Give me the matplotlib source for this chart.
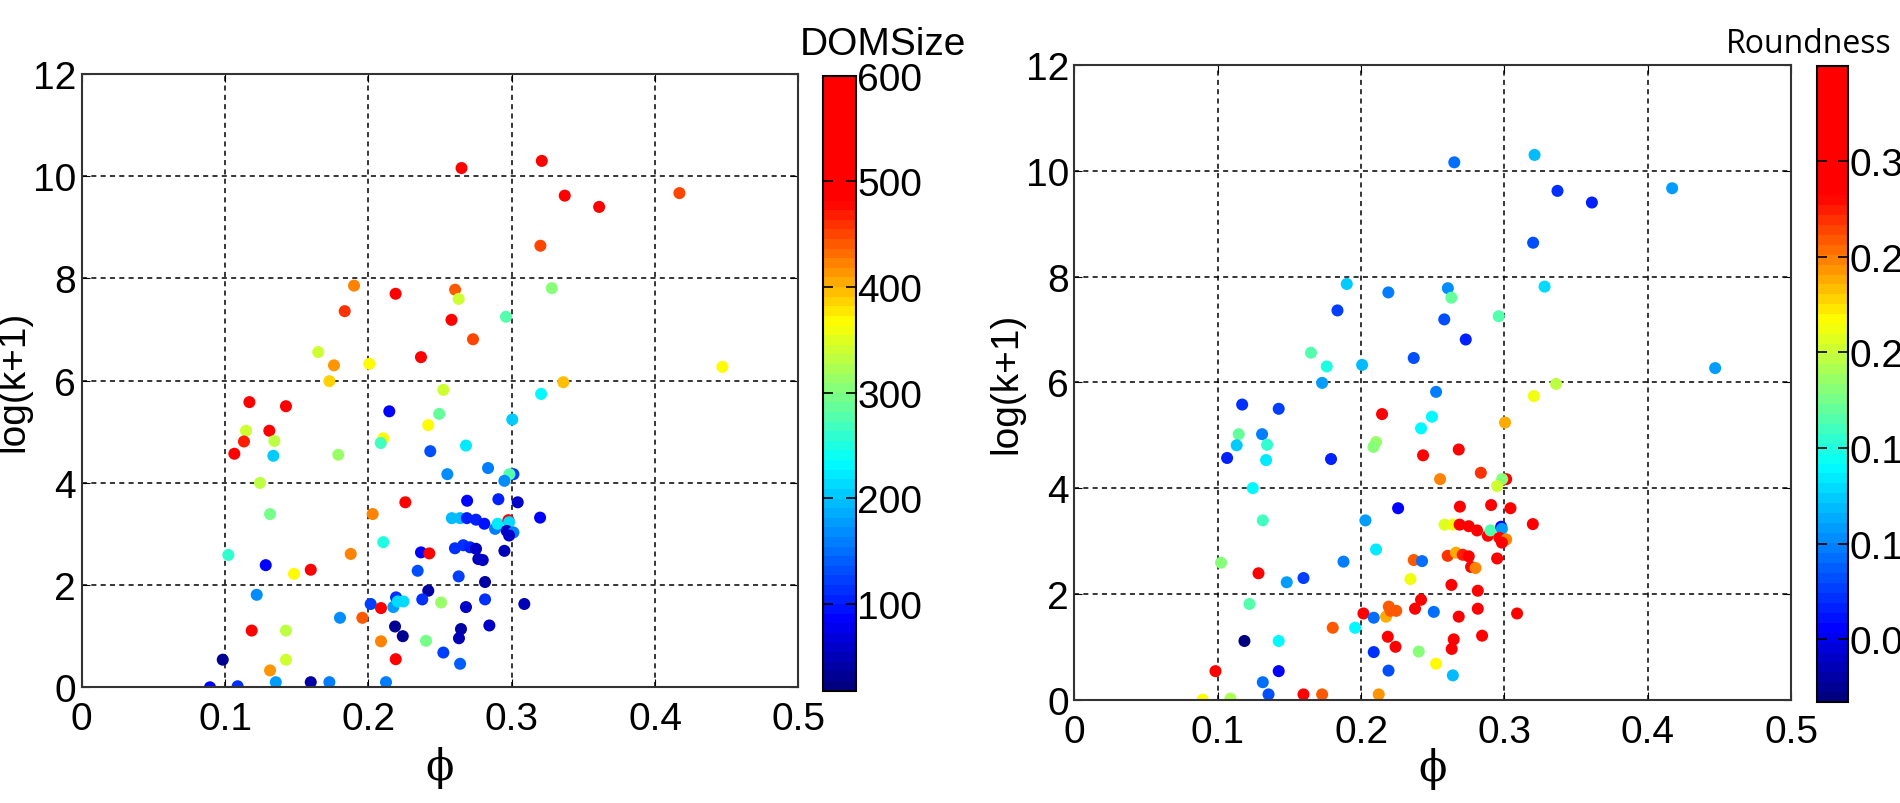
import matplotlib
matplotlib.use("Agg")
import matplotlib.pyplot as plt
from matplotlib.colors import LinearSegmentedColormap

plt.rcParams['font.family'] = ['Liberation Sans', 'DejaVu Sans']

# porosity (x) and log(k+1) (y), shared by both panels
phi = [0.265, 0.321, 0.337, 0.361, 0.417, 0.320, 0.328, 0.296, 0.447, 0.336, 0.3205,
       0.190, 0.219, 0.2605, 0.263, 0.1835, 0.258, 0.273, 0.165, 0.176, 0.2007, 0.2367, 0.1728, 0.2523,
       0.117, 0.1425, 0.2146, 0.2494, 0.2418, 0.3004, 0.2681, 0.2432, 0.2551, 0.2835, 0.3012, 0.2984, 0.2949,
       0.1065, 0.2258, 0.2689, 0.2907, 0.3042, 0.3198, 0.2582, 0.264, 0.2687, 0.2751, 0.2809, 0.2884, 0.2902,
       0.2977, 0.2982, 0.2965, 0.3012, 0.2982, 0.2367, 0.2425, 0.2604, 0.2662, 0.2709, 0.2751, 0.2767, 0.2798, 0.2949,
       0.2344, 0.263, 0.2814, 0.2418, 0.2376, 0.2507, 0.2814, 0.2681, 0.3088, 0.2844, 0.2646, 0.2632, 0.224, 0.2402, 0.2523, 0.264,
       0.2186, 0.2088, 0.2191, 0.2123, 0.2016, 0.2088, 0.2193, 0.2174, 0.2205, 0.2245, 0.1958, 0.1802,
       0.1146, 0.1309, 0.1132, 0.1344, 0.1337, 0.179, 0.2104, 0.2086, 0.1244, 0.1314, 0.2030, 0.2104, 0.1023, 0.1877,
       0.1284, 0.1481, 0.1598, 0.1221, 0.1186, 0.1425, 0.0984, 0.1425, 0.1314, 0.0895, 0.1088, 0.1354, 0.1598, 0.1728]

logk = [10.16, 10.30, 9.62, 9.40, 9.67, 8.64, 7.81, 7.25, 6.27, 5.97, 5.74,
        7.86, 7.70, 7.78, 7.60, 7.36, 7.19, 6.81, 6.56, 6.30, 6.33, 6.46, 5.99, 5.82,
        5.58, 5.50, 5.40, 5.35, 5.13, 5.24, 4.73, 4.62, 4.17, 4.29, 4.17, 4.17, 4.04,
        4.57, 3.62, 3.65, 3.68, 3.62, 3.32, 3.31, 3.31, 3.31, 3.28, 3.20, 3.10, 3.20,
        3.27, 3.23, 3.06, 3.03, 2.97, 2.64, 2.62, 2.72, 2.78, 2.74, 2.71, 2.51, 2.49, 2.67,
        2.28, 2.17, 2.06, 1.89, 1.72, 1.66, 1.72, 1.57, 1.63, 1.21, 1.14, 0.96, 1.00, 0.91, 0.68, 0.46,
        1.19, 0.90, 0.55, 0.10, 1.63, 1.55, 1.76, 1.57, 1.68, 1.68, 1.36, 1.36,
        5.02, 5.02, 4.81, 4.82, 4.53, 4.55, 4.87, 4.78, 4.00, 3.39, 3.39, 2.84, 2.59, 2.61,
        2.39, 2.22, 2.30, 1.81, 1.11, 1.11, 0.54, 0.54, 0.33, 0.0, 0.02, 0.10, 0.10, 0.10]

dom_size = [560, 570, 560, 555, 448, 448, 300, 275, 365, 396, 228,
            420, 565, 443, 341, 460, 560, 450, 341, 414, 365, 570, 390, 341,
            565, 560, 90, 285, 365, 205, 222, 130, 165, 160, 125, 278, 165,
            565, 570, 90, 100, 55, 88, 195, 195, 100, 100, 95, 160, 222,
            560, 215, 60, 160, 55, 90, 570, 110, 110, 100, 60, 50, 55, 50,
            130, 125, 45, 45, 110, 310, 110, 55, 50, 55, 45, 50, 30, 295, 125, 145,
            30, 425, 560, 155, 125, 565, 110, 175, 215, 215, 440, 165,
            341, 570, 465, 335, 205, 310, 365, 268, 330, 295, 425, 250, 255, 420,
            90, 365, 565, 165, 565, 335, 30, 341, 414, 90, 110, 175, 45, 155]

roundness = [0.09, 0.12, 0.07, 0.068, 0.107, 0.083, 0.13, 0.165, 0.11, 0.195, 0.21,
             0.125, 0.097, 0.105, 0.17, 0.077, 0.083, 0.068, 0.165, 0.15, 0.12, 0.08, 0.107, 0.10,
             0.072, 0.077, 0.32, 0.14, 0.138, 0.24, 0.32, 0.32, 0.25, 0.267, 0.32, 0.18, 0.20,
             0.068, 0.057, 0.33, 0.33, 0.32, 0.31, 0.207, 0.21, 0.33, 0.32, 0.33, 0.33, 0.163,
             0.057, 0.107, 0.33, 0.25, 0.32, 0.26, 0.09, 0.27, 0.24, 0.275, 0.32, 0.32, 0.25, 0.32,
             0.21, 0.32, 0.32, 0.32, 0.32, 0.095, 0.32, 0.32, 0.32, 0.32, 0.32, 0.32, 0.32, 0.18, 0.215, 0.117,
             0.32, 0.072, 0.08, 0.243, 0.32, 0.095, 0.26, 0.24, 0.257, 0.257, 0.138, 0.26,
             0.17, 0.097, 0.125, 0.155, 0.135, 0.068, 0.187, 0.183, 0.138, 0.158, 0.107, 0.135, 0.183, 0.10,
             0.32, 0.107, 0.077, 0.165, 0.02, 0.138, 0.32, 0.055, 0.09, 0.215, 0.19, 0.08, 0.32, 0.26]

x_ticks = [0, 0.1, 0.2, 0.3, 0.4, 0.5]
x_labels = ['0', '0.1', '0.2', '0.3', '0.4', '0.5']
y_ticks = [0, 2, 4, 6, 8, 10, 12]
dom_ticks = [100, 200, 300, 400, 500, 600]
rnd_ticks = [0.05, 0.1, 0.15, 0.2, 0.25, 0.3]

# jet-like map whose top stays red
jet_red = LinearSegmentedColormap.from_list(
    'jet_red', [(0, (0, 0, 0.5)), (0.11, (0, 0, 1)), (0.37, (0, 1, 1)),
                (0.6, (1, 1, 0)), (0.8, (1, 0, 0)), (1, (1, 0, 0))], N=64)

fig = plt.figure(figsize=(19, 8.04), dpi=100)
FS = 28


def panel(ax_rect, cb_rect, c, vmin, vmax, cticks, xpad):
    ax = fig.add_axes(ax_rect)
    sc = ax.scatter(phi, logk, c=c, cmap=jet_red, vmin=vmin, vmax=vmax,
                    s=75, marker='o', edgecolors='none')
    ax.set_xlim(0, 0.5)
    ax.set_ylim(0, 12)
    ax.set_xticks(x_ticks)
    ax.set_xticklabels(x_labels)
    ax.set_yticks(y_ticks)
    ax.set_axisbelow(True)
    ax.grid(True, color='k', linestyle=(0, (3.3, 2.8)), linewidth=1.1)
    ax.tick_params(direction='in', length=6, labelsize=FS, top=True, right=True)
    ax.tick_params(axis='x', pad=10)
    ax.tick_params(axis='y', pad=4)
    for sp in ax.spines.values():
        sp.set_color('#333333')
        sp.set_linewidth(1.5)
    ax.set_xlabel('ϕ', fontsize=FS + 2, labelpad=xpad, family=['DejaVu Serif'])
    ax.set_ylabel('log(k+1)', fontsize=FS, labelpad=1)

    cax = fig.add_axes(cb_rect)
    cb = fig.colorbar(sc, cax=cax, ticks=cticks)
    cb.ax.set_yticklabels(['%g' % t for t in cticks])
    cb.ax.tick_params(direction='in', left=True, right=True, length=7, width=1.2,
                      labelsize=FS, pad=1)
    cb.outline.set_linewidth(1.5)
    cb.outline.set_edgecolor('k')
    return ax


panel([0.0430, 0.1439, 0.3772, 0.7628], [0.4333, 0.1397, 0.0171, 0.7649],
      dom_size, 18, 600, dom_ticks, 6)
panel([0.5655, 0.1285, 0.3772, 0.7894], [0.9562, 0.1253, 0.0166, 0.7918],
      roundness, 0.017, 0.35, rnd_ticks, -2)

fig.text(800 / 1900, 1 - 55 / 804, 'DOMSize', fontsize=FS, ha='left', va='baseline')
fig.text(1726 / 1900, 1 - 53 / 804, 'Roundness', fontsize=23, ha='left', va='baseline',
         family=['Open Sans', 'DejaVu Sans'])

fig.savefig('out.png', dpi=100)
